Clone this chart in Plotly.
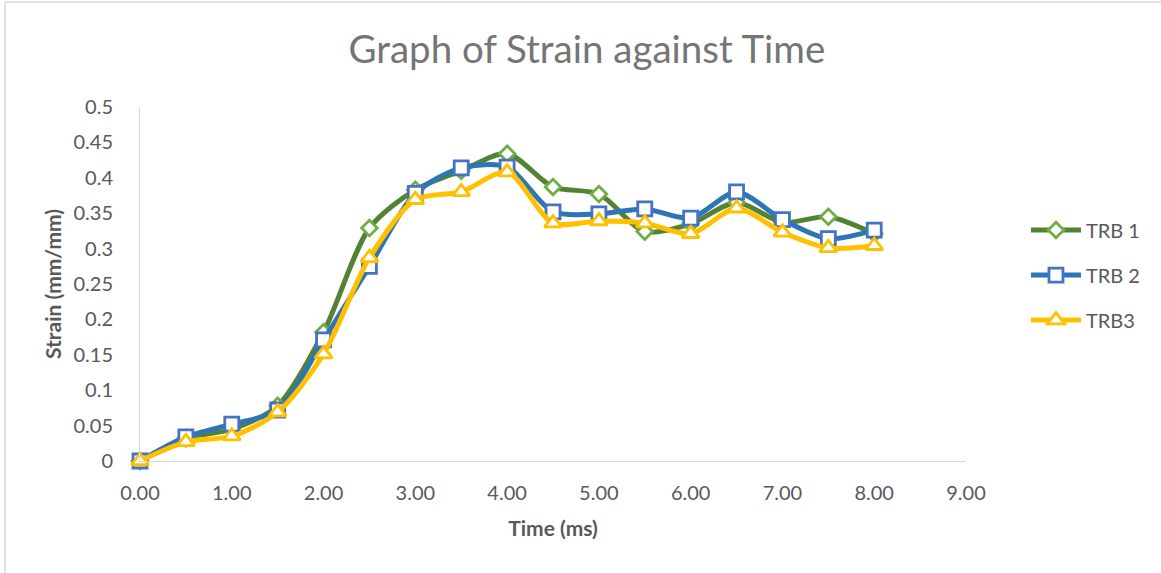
import plotly.graph_objects as go

time_ms = [0.0, 0.5, 1.0, 1.5, 2.0, 2.5, 3.0, 3.5, 4.0, 4.5, 5.0, 5.5, 6.0, 6.5, 7.0, 7.5, 8.0]
trb1 = [0.0, 0.032, 0.045, 0.078, 0.182, 0.329, 0.383, 0.41, 0.434, 0.387, 0.377, 0.324, 0.335, 0.365, 0.337, 0.345, 0.321]
trb2 = [0.0, 0.034, 0.052, 0.072, 0.171, 0.275, 0.378, 0.414, 0.415, 0.352, 0.349, 0.356, 0.343, 0.38, 0.341, 0.314, 0.326]
trb3 = [0.0, 0.027, 0.035, 0.069, 0.151, 0.287, 0.369, 0.38, 0.408, 0.336, 0.339, 0.336, 0.321, 0.357, 0.323, 0.301, 0.304]

x_ticks = [0, 1, 2, 3, 4, 5, 6, 7, 8, 9]
y_ticks = [0, 0.05, 0.1, 0.15, 0.2, 0.25, 0.3, 0.35, 0.4, 0.45, 0.5]

FONT = "Lato, Carlito, Calibri, sans-serif"
GRAY = "#595959"

fig = go.Figure()
series = [
    ("TRB 1", trb1, "#548235", "#70AD47", "diamond", 12),
    ("TRB 2", trb2, "#2E75B6", "#4472C4", "square", 14),
    ("TRB3", trb3, "#FFC000", "#FFC000", "triangle-up", 15),
]
for name, ys, lc, mc, sym, ms in series:
    fig.add_trace(go.Scatter(
        x=time_ms, y=ys, name=name, legendgroup=name, mode="lines+markers",
        cliponaxis=False,
        line=dict(color=lc, width=5, shape="spline", smoothing=0.8),
        marker=dict(symbol=sym, size=ms, color="white",
                    line=dict(color=mc, width=2.8)),
    ))

fig.update_layout(
    width=1161, height=573,
    paper_bgcolor="white", plot_bgcolor="white",
    margin=dict(l=140, r=195, t=107, b=112),
    font=dict(family=FONT, color=GRAY, size=20),
    title=dict(text="Graph of Strain against Time", x=0.5055, xanchor="center",
               y=0.913, yanchor="middle",
               font=dict(family=FONT, size=38.5, color="#757575")),
    showlegend=True,
    legend=dict(xref="container", yref="container", x=0.8837, y=0.52,
                xanchor="left", yanchor="middle",
                font=dict(family=FONT, size=20, color=GRAY),
                traceorder="grouped",
                itemwidth=50, tracegroupgap=16, bgcolor="rgba(0,0,0,0)"),
    xaxis=dict(range=[0, 9], tickvals=x_ticks, tickformat=".2f",
               showgrid=False, zeroline=False, showline=True, automargin=False,
               linecolor="#D9D9D9", linewidth=1, ticks="",
               ticklabelstandoff=14,
               title=dict(text="<b>Time (ms)</b>", standoff=18,
                          font=dict(family=FONT, size=21, color=GRAY))),
    yaxis=dict(range=[0, 0.5], tickvals=y_ticks, ticktext=[("%g" % v) for v in y_ticks],
               showgrid=False, zeroline=False, showline=True, automargin=False,
               linecolor="#D9D9D9", linewidth=1, ticks="",
               ticklabelstandoff=22,
               title=dict(text="<b>Strain (mm/mm)</b>", standoff=6,
                          font=dict(family=FONT, size=21, color=GRAY))),
)

# chart-area border (left and top edges visible)
fig.add_shape(type="line", xref="paper", yref="paper",
              x0=-0.1634, x1=-0.1634, y0=-0.35, y1=1.2966,
              line=dict(color="#D9D9D9", width=1.5))
fig.add_shape(type="line", xref="paper", yref="paper",
              x0=-0.1634, x1=1.3, y0=1.2966, y1=1.2966,
              line=dict(color="#D9D9D9", width=1.5))

fig.write_html("out.html")
